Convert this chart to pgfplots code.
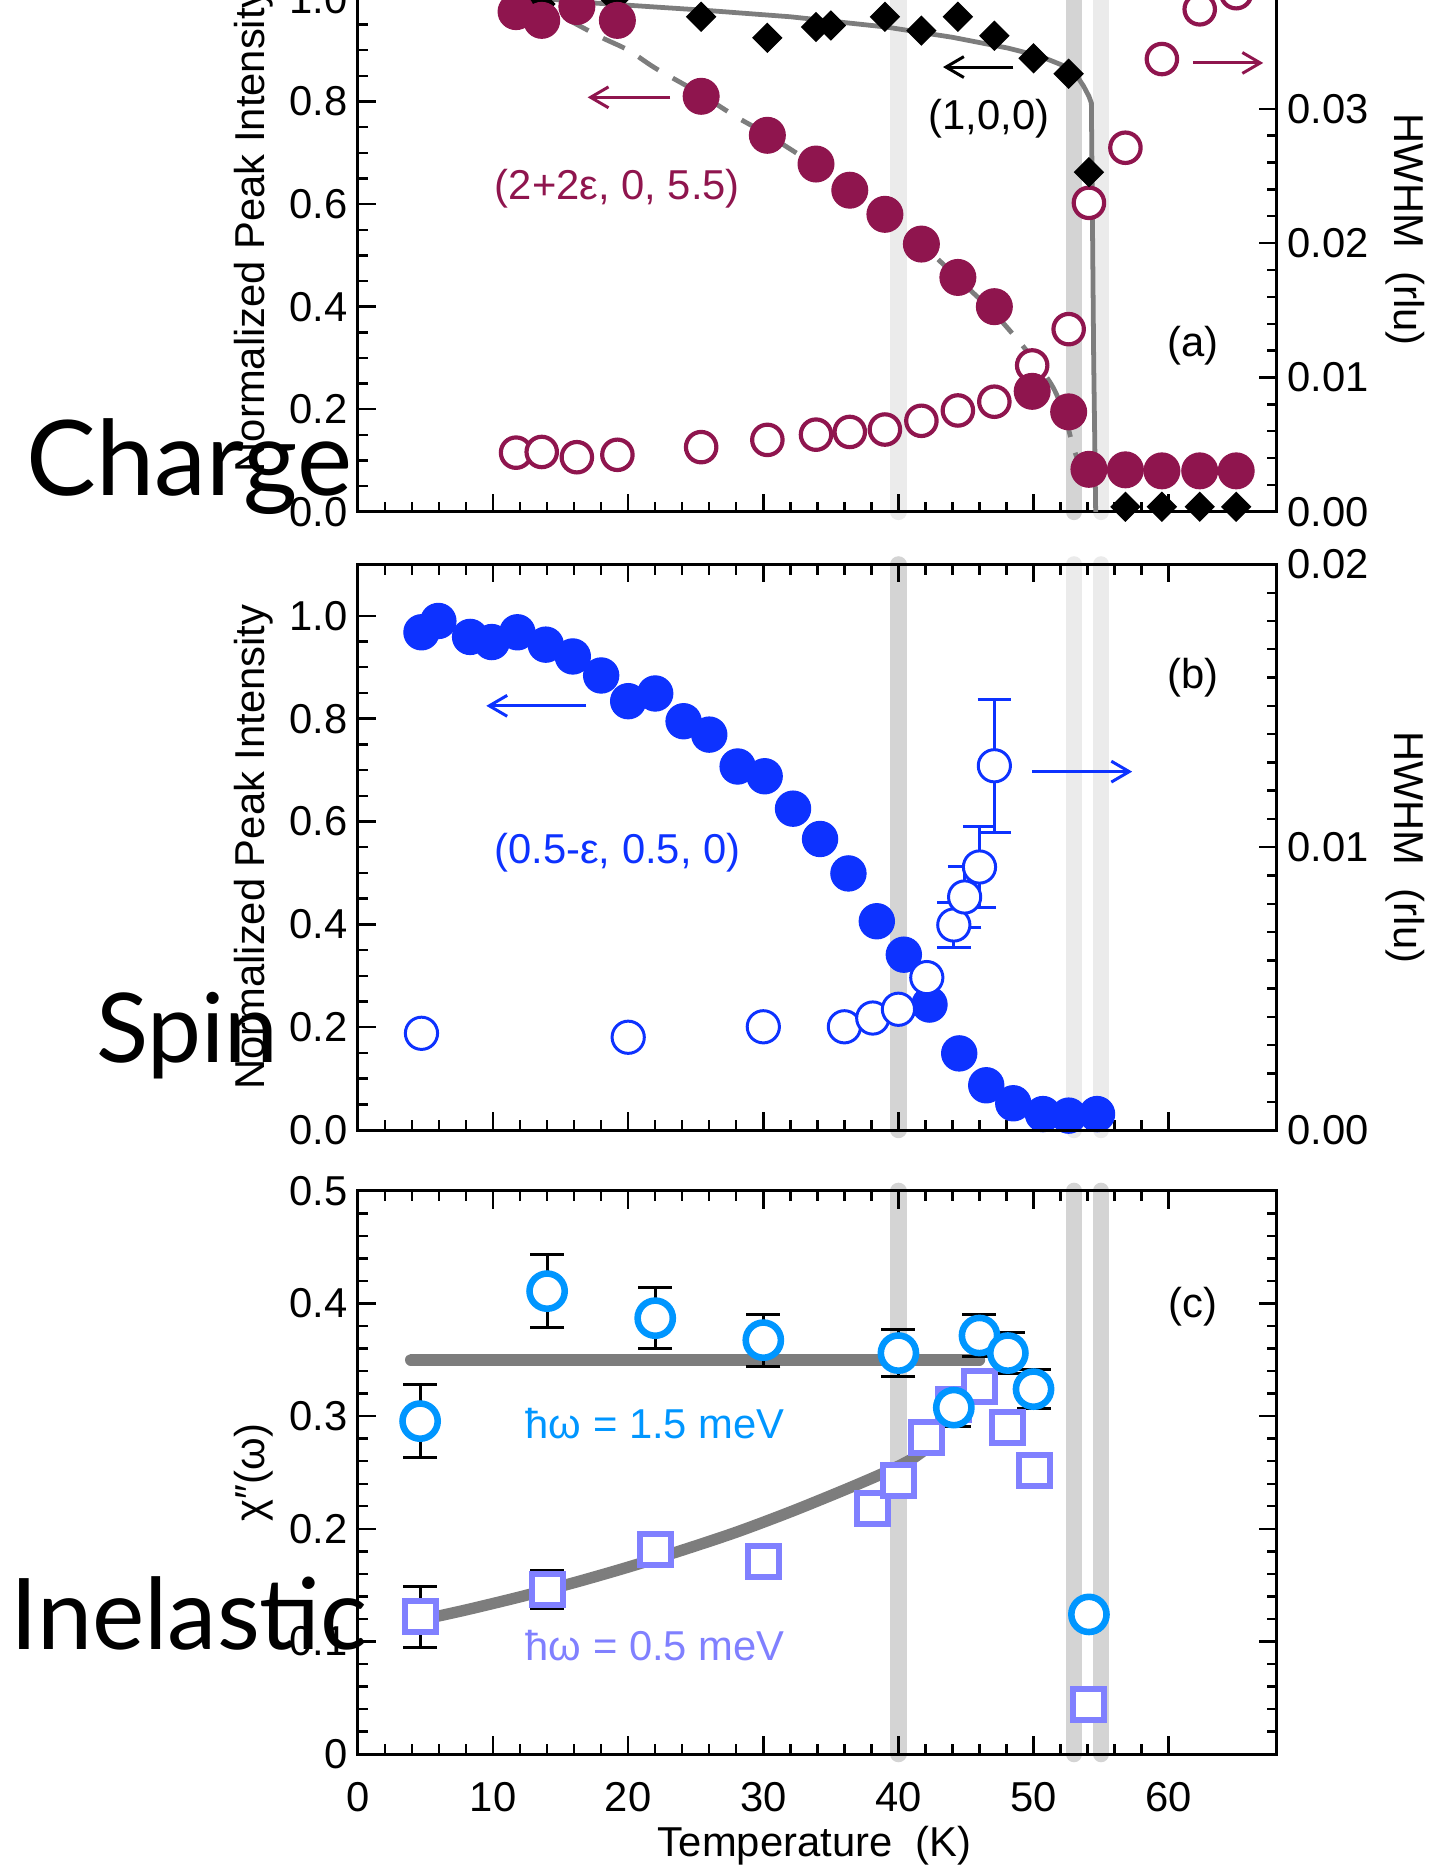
\documentclass[border=0pt]{standalone}
\usepackage{pgfplots}
\pgfplotsset{compat=1.18}
\usetikzlibrary{arrows.meta}
\usepackage{fontspec}
\setmainfont{Liberation Sans}
\newfontfamily\bigfont{Lato}
\definecolor{maroon}{RGB}{143,21,78}
\definecolor{sblue}{RGB}{13,50,255}
\definecolor{lblue}{RGB}{0,150,255}
\definecolor{peri}{RGB}{128,128,255}
\definecolor{bandd}{RGB}{212,212,212}
\definecolor{bandl}{RGB}{235,235,235}
\definecolor{lgray}{RGB}{125,125,125}
\newcommand{\fs}{\fontsize{14}{16}\selectfont}

\tikzset{
  bandline/.style={line width=5.5pt, line cap=round},
  arr/.style={line width=1pt, -{Straight Barb[length=6pt,width=7pt]}},
}
\pgfplotsset{
  base/.style={scale only axis, width=308pt, xmin=0, xmax=68, anchor=south west,
    /pgf/number format/assume math mode=true,
    tick label style={font=\fs},
    label style={font=\fs},
    major tick length=6pt, minor tick length=3.4pt,
    every tick/.style={black, line width=0.8pt},
    axis line style={line width=1pt},
    xtick={0,10,20,30,40,50,60}, minor x tick num=4,
    tick align=inside,
  },
  bandax/.style={base, hide axis, clip=false},
  leftlab/.style={every axis y label/.style={at={(axis description cs:-0.114,0.5)}, rotate=90, anchor=center, font=\fs}},
  rightlab/.style={every axis y label/.style={at={(axis description cs:1.140,0.5)}, rotate=-90, anchor=center, font=\fs}},
}

\begin{document}
\begin{tikzpicture}
% ================= Panel (a) =================
\begin{axis}[bandax, at={(120pt,-171.6pt)}, height=189.2pt, ymin=0, ymax=1.1]
\draw[bandl, bandline] (axis cs:40,0) -- (axis cs:40,1.1);
\draw[bandd, bandline] (axis cs:53,0) -- (axis cs:53,1.1);
\draw[bandl, bandline] (axis cs:55,0) -- (axis cs:55,1.1);
\end{axis}
\begin{axis}[base, at={(120pt,-171.6pt)}, height=189.2pt, ymin=0, ymax=0.042,
  xtick=\empty, ytick={0,0.01,0.02,0.03}, minor y tick num=4, ytick pos=right, yticklabel pos=right,
  scaled y ticks=false, yticklabel style={/pgf/number format/.cd, fixed, fixed zerofill, precision=2},
  rightlab, ylabel={HWHM\ \ (rlu)}]
\end{axis}
\begin{axis}[base, at={(120pt,-171.6pt)}, height=189.2pt, ymin=0, ymax=1.1,
  xticklabels={}, ytick={0,0.2,0.4,0.6,0.8,1.0}, minor y tick num=3, ytick pos=left,
  yticklabel style={/pgf/number format/.cd, fixed, fixed zerofill, precision=1},
  leftlab, ylabel={Normalized Peak Intensity}]
% dashed guide (2+2e,0,5.5)
\addplot[lgray, line width=1.6pt, dash pattern=on 8pt off 5.5pt, smooth] coordinates {
(15.5,0.96) (18,0.925) (20,0.9) (22,0.865) (25,0.82) (28,0.77) (30,0.74) (33,0.69) (36,0.635)
(39,0.58) (42,0.515) (45,0.44) (47,0.39) (49,0.33) (50.5,0.28) (51.5,0.24) (52.3,0.19)
(52.8,0.14) (53.3,0.1) (53.8,0.085)};
% solid guide (1,0,0)
\addplot[lgray, line width=1.6pt] coordinates {
(14,1.0) (17.4,0.992) (25.5,0.978) (32,0.965) (39.1,0.945) (44,0.925) (48.1,0.904) (50.5,0.888)
(52.1,0.871) (53.2,0.85) (53.7,0.83) (54.1,0.81) (54.28,0.797) (54.35,0.6) (54.45,0.3) (54.6,0)};
% HWHM open circles (right axis values, scaled to left axis)
\addplot[only marks, mark=*, mark size=5.1pt, maroon, line width=1.4pt, mark options={fill=white},
  y filter/.expression={y*1.1/0.042}] coordinates {
(11.7,0.00441) (13.6,0.00446) (16.2,0.00407) (19.2,0.00425) (25.4,0.00482) (30.3,0.00536)
(33.9,0.00575) (36.4,0.00595) (39.0,0.00613) (41.7,0.00678) (44.4,0.00755) (47.1,0.0082)
(49.9,0.0109) (52.6,0.0136) (54.1,0.023) (56.8,0.0271) (59.5,0.0337) (62.3,0.0374) (65.0,0.0386)};
% (1,0,0) diamonds
\addplot[only marks, mark=square*, mark size=3.4pt, black, mark options={rotate=45}] coordinates {
(13.5,0.99) (19.0,1.0) (25.4,0.965) (30.3,0.924) (33.9,0.945) (35.0,0.948) (39.0,0.965) (41.7,0.938)
(44.4,0.965) (47.1,0.928) (50.0,0.884) (52.6,0.854) (54.1,0.662) (56.8,0.01) (59.5,0.01)
(62.3,0.01) (65.0,0.01)};
% intensity filled circles
\addplot[only marks, mark=*, mark size=6pt, maroon, mark options={fill=maroon}] coordinates {
(11.7,0.975) (13.6,0.958) (16.2,0.985) (19.2,0.958) (25.4,0.81) (30.3,0.734) (33.9,0.678)
(36.4,0.627) (39.0,0.58) (41.7,0.522) (44.4,0.457) (47.1,0.4) (49.9,0.235) (52.6,0.195)
(54.1,0.083) (56.8,0.082) (59.5,0.08) (62.3,0.08) (65.0,0.08)};
\draw[maroon, arr] (axis cs:23.1,0.808) -- (axis cs:17.0,0.808);
\draw[maroon, arr] (axis cs:61.8,0.875) -- (axis cs:67.0,0.875);
\draw[black, arr] (axis cs:48.5,0.867) -- (axis cs:43.3,0.867);
\node[font=\fs] at (axis cs:46.7,0.766) {(1,0,0)};
\node[font=\fs, text=maroon] at (axis cs:19.2,0.629) {(2+2ε, 0, 5.5)};
\node[font=\fs] at (axis cs:61.8,0.323) {(a)};
\end{axis}

% ================= Panel (b) =================
\begin{axis}[bandax, at={(120pt,-378.8pt)}, height=189.6pt, ymin=0, ymax=1.1]
\draw[bandd, bandline] (axis cs:40,0) -- (axis cs:40,1.1);
\draw[bandl, bandline] (axis cs:53,0) -- (axis cs:53,1.1);
\draw[bandl, bandline] (axis cs:55,0) -- (axis cs:55,1.1);
\end{axis}
\begin{axis}[base, at={(120pt,-378.8pt)}, height=189.6pt, ymin=0, ymax=1.1,
  xticklabels={}, ytick={0,0.2,0.4,0.6,0.8,1.0}, minor y tick num=3, ytick pos=left,
  yticklabel style={/pgf/number format/.cd, fixed, fixed zerofill, precision=1},
  leftlab, ylabel={Normalized Peak Intensity}]
\addplot[only marks, mark=*, mark size=5.9pt, sblue, mark options={fill=sblue}] coordinates {
(4.7,0.968) (5.95,0.99) (8.3,0.959) (9.9,0.949) (11.8,0.968) (13.9,0.944) (15.9,0.921)
(18.0,0.884) (20.0,0.834) (22.0,0.849) (24.1,0.795) (26.0,0.769) (28.1,0.707) (30.1,0.688)
(32.2,0.625) (34.2,0.566) (36.3,0.499) (38.4,0.406) (40.4,0.341) (42.3,0.244) (44.5,0.149)
(46.5,0.087) (48.5,0.052) (50.7,0.031) (52.6,0.028) (54.7,0.031)};
\draw[sblue, arr] (axis cs:16.9,0.825) -- (axis cs:9.5,0.825);
\draw[sblue, arr] (axis cs:49.9,0.697) -- (axis cs:57.3,0.697);
\node[font=\fs, text=sblue] at (axis cs:19.2,0.539) {(0.5-ε, 0.5, 0)};
\node[font=\fs] at (axis cs:61.8,0.88) {(b)};
\end{axis}
\begin{axis}[base, at={(120pt,-378.8pt)}, height=189.6pt, ymin=0, ymax=0.02,
  xtick=\empty, ytick={0,0.01,0.02}, minor y tick num=9, ytick pos=right, yticklabel pos=right,
  scaled y ticks=false, yticklabel style={/pgf/number format/.cd, fixed, fixed zerofill, precision=2},
  rightlab, ylabel={HWHM\ \ (rlu)}]
\addplot[only marks, mark=*, mark size=5.4pt, sblue, line width=1pt, mark options={fill=white}] coordinates {
(4.7,0.00342) (20.0,0.00328) (30.0,0.00365) (36.0,0.00365) (38.1,0.00396) (40.0,0.00427) (42.1,0.00539)};
\addplot[only marks, mark=*, mark size=5.4pt, sblue, line width=1pt, mark options={fill=white},
  error bars/.cd, y dir=both, y explicit, error bar style={sblue, line width=1pt},
  error mark options={rotate=90, sblue, mark size=5.6pt, line width=1pt}] coordinates {
(44.1,0.00725) +- (0,0.00078)
(44.9,0.00824) +- (0,0.00109)
(46.0,0.0093) +- (0,0.00144)
(47.1,0.01288) +- (0,0.00235)};
\end{axis}

% ================= Panel (c) =================
\begin{axis}[bandax, at={(120pt,-588pt)}, height=188.8pt, ymin=0, ymax=0.5]
\draw[bandd, bandline] (axis cs:40,0) -- (axis cs:40,0.5);
\draw[bandd, bandline] (axis cs:53,0) -- (axis cs:53,0.5);
\draw[bandd, bandline] (axis cs:55,0) -- (axis cs:55,0.5);
\end{axis}
\begin{axis}[base, at={(120pt,-588pt)}, height=188.8pt, ymin=0, ymax=0.5,
  ytick={0,0.1,0.2,0.3,0.4,0.5}, minor y tick num=4, ytick pos=both, yticklabel pos=left,
  yticklabel style={/pgf/number format/.cd, fixed, precision=1},
  xticklabel style={yshift=-6pt},
  leftlab, ylabel={χ″(ω)},
  xlabel={Temperature\ \ (K)},
  every axis x label/.style={at={(axis description cs:0.497,-0.163)}, anchor=center, font=\fs}]
\addplot[lgray, line width=3.8pt, line cap=round] coordinates {(3.9,0.35) (46.0,0.35)};
\addplot[lgray, line width=3.8pt, line cap=round, smooth] coordinates {
(4.6,0.119) (8,0.128) (12,0.1396) (16,0.1522) (20,0.166) (24,0.181) (28,0.197) (32,0.215)
(36,0.2345) (39,0.250) (41,0.262) (42.6,0.276)};
% 0.5 meV squares
\addplot[only marks, mark=square*, mark size=5.2pt, peri, line width=2pt, mark options={fill=white},
  error bars/.cd, y dir=both, y explicit, error bar style={black, line width=1pt},
  error mark options={rotate=90, black, mark size=5.7pt, line width=1pt}] coordinates {
(4.6,0.122) +- (0,0.027)
(14.0,0.146) +- (0,0.017)};
\addplot[only marks, mark=square*, mark size=5.2pt, peri, line width=2pt, mark options={fill=white}] coordinates {
(22.0,0.182) (30.0,0.171) (38.1,0.218) (40.0,0.243) (42.1,0.281) (44.1,0.31) (46.0,0.3265)
(48.1,0.29) (50.1,0.252) (54.1,0.044)};
% 1.5 meV circles
\addplot[only marks, mark=*, mark size=5.9pt, lblue, line width=2.2pt, mark options={fill=white},
  error bars/.cd, y dir=both, y explicit, error bar style={black, line width=1pt},
  error mark options={rotate=90, black, mark size=5.7pt, line width=1pt}] coordinates {
(4.6,0.2956) +- (0,0.0327)
(14.0,0.411) +- (0,0.0327)
(22.0,0.387) +- (0,0.027)
(30.0,0.3675) +- (0,0.023)
(40.0,0.356) +- (0,0.021)
(44.1,0.3076) +- (0,0.017)
(46.0,0.3716) +- (0,0.019)
(48.1,0.356) +- (0,0.018)
(50.0,0.324) +- (0,0.0174)
(54.1,0.124) +- (0,0.004)};
\node[font=\fs, text=lblue] at (axis cs:22.0,0.293) {ħω = 1.5 meV};
\node[font=\fs, text=peri] at (axis cs:22.0,0.096) {ħω = 0.5 meV};
\node[font=\fs] at (axis cs:61.8,0.397) {(c)};
\end{axis}

% ================= Big side labels =================
\node[anchor=base west, inner sep=0pt] at (8.8pt,-166pt) {\resizebox{109pt}{!}{\bigfont Charge}};
\node[anchor=base west, inner sep=0pt] at (32pt,-356pt) {\resizebox{61pt}{!}{\bigfont Spin}};
\node[anchor=base west, inner sep=0pt] at (3.2pt,-552.8pt) {\resizebox{120pt}{!}{\bigfont Inelastic}};

\pgfresetboundingbox
\useasboundingbox (0pt,-627.2pt) rectangle (480pt,0pt);
\end{tikzpicture}
\end{document}
